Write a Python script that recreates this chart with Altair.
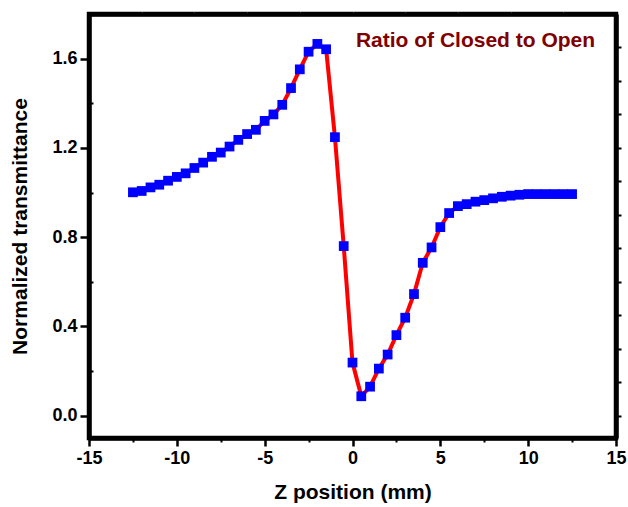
import altair as alt
import pandas as pd

# ---- data ----
z_mm = [-12.5, -12.0, -11.5, -11.0, -10.5, -10.0, -9.5, -9.0, -8.5, -8.0,
        -7.5, -7.0, -6.5, -6.0, -5.5, -5.0, -4.5, -4.0, -3.5, -3.0,
        -2.5, -2.0, -1.5, -1.0, -0.5, 0.0, 0.5, 1.0, 1.5, 2.0,
        2.5, 3.0, 3.5, 4.0, 4.5, 5.0, 5.5, 6.0, 6.5, 7.0,
        7.5, 8.0, 8.5, 9.0, 9.5, 10.0, 10.5, 11.0, 11.5, 12.0, 12.5]
transmittance = [1.001, 1.007, 1.023, 1.035, 1.053, 1.070, 1.086, 1.110, 1.134, 1.160,
                 1.179, 1.206, 1.236, 1.262, 1.281, 1.321, 1.350, 1.393, 1.468, 1.552,
                 1.631, 1.666, 1.642, 1.248, 0.760, 0.238, 0.087, 0.130, 0.211, 0.274,
                 0.361, 0.439, 0.545, 0.685, 0.754, 0.845, 0.908, 0.939, 0.948, 0.959,
                 0.966, 0.974, 0.981, 0.986, 0.990, 0.993, 0.993, 0.993, 0.993, 0.993, 0.993]

note_text = ["Ratio of Closed to Open"]
note_x = [7.0]
note_y = [1.68]

x_major = [-15, -10, -5, 0, 5, 10, 15]
x_minor = [-12.5, -7.5, -2.5, 2.5, 7.5, 12.5]
x_top = [-12, -9, -6, -3, 0, 3, 6, 9, 12]
y_major = [0.0, 0.4, 0.8, 1.2, 1.6]
y_minor = [0.2, 0.6, 1.0, 1.4]
y_right = [0.0, 0.15, 0.3, 0.45, 0.6, 0.75, 0.9, 1.05, 1.2, 1.35, 1.5, 1.65]

x_domain = [-15, 15]
y_domain = [-0.1, 1.8]

W, H = 527, 424
FONT = "Liberation Sans"
FRAME = 4.5

df = pd.DataFrame({"z": z_mm, "t": transmittance})
note_df = pd.DataFrame({"label": note_text, "x": note_x, "y": note_y})

xs = alt.Scale(domain=x_domain, nice=False, zero=False)
ys = alt.Scale(domain=y_domain, nice=False, zero=False)

common = dict(grid=False, tickColor="black", domainColor="black", labelColor="black",
              titleColor="black", labelFont=FONT, titleFont=FONT,
              labelFontWeight="bold", titleFontWeight="bold")

x_axis = alt.Axis(values=x_major, title="Z position (mm)", labelExpr="'' + datum.value",
                  tickSize=8, tickWidth=2.5, domainWidth=FRAME, labelFontSize=18,
                  labelPadding=3, titleFontSize=21, titlePadding=14, labelFlush=False,
                  **common)
y_axis = alt.Axis(values=y_major, title="Normalized transmittance", format=".1f",
                  tickSize=9, tickWidth=2.5, domainWidth=FRAME, labelFontSize=18,
                  labelPadding=3, titleFontSize=21, titlePadding=21, **common)

line = alt.Chart(df).mark_line(color="#ff0000", strokeWidth=4).encode(
    x=alt.X("z:Q", scale=xs, axis=x_axis),
    y=alt.Y("t:Q", scale=ys, axis=y_axis),
)

points = alt.Chart(df).mark_square(size=95, color="#0000ff", opacity=1).encode(
    x=alt.X("z:Q", scale=xs, axis=None),
    y=alt.Y("t:Q", scale=ys, axis=None),
)

note = alt.Chart(note_df).mark_text(
    font=FONT, fontSize=21, fontWeight="bold", color="#800000",
    align="center", baseline="middle"
).encode(
    x=alt.X("x:Q", scale=xs, axis=None),
    y=alt.Y("y:Q", scale=ys, axis=None),
    text="label:N",
)

minor = alt.Chart(df).mark_point(opacity=0).encode(
    x=alt.X("z:Q", scale=xs, axis=alt.Axis(orient="bottom", values=x_minor, labels=False,
                                            domain=False, tickSize=4, tickWidth=2,
                                            tickColor="black", title="", grid=False)),
    y=alt.Y("t:Q", scale=ys, axis=alt.Axis(orient="right", offset=-W, values=y_minor,
                                            labels=False, domain=False, tickSize=4,
                                            tickWidth=2, tickColor="black", title="",
                                            grid=False)),
)

edges = alt.Chart(df).mark_point(opacity=0).encode(
    x=alt.X("z:Q", scale=xs, axis=alt.Axis(orient="top", values=x_top, labels=False,
                                            domain=True, domainColor="black",
                                            domainWidth=FRAME, tickSize=3, tickWidth=1,
                                            tickColor="#bbbbbb", title="", grid=False)),
    y=alt.Y("t:Q", scale=ys, axis=alt.Axis(orient="right", values=y_right, labels=False,
                                            domain=True, domainColor="black",
                                            domainWidth=FRAME, tickSize=5, tickWidth=2,
                                            tickColor="black", title="", grid=False)),
)

chart = alt.layer(line, points, note, minor, edges).resolve_axis(
    x="independent", y="independent"
).properties(
    width=W, height=H,
    background="white",
    autosize=alt.AutoSizeParams(type="none"),
    padding={"left": 89, "top": 14, "right": 12, "bottom": 69},
).configure_view(
    stroke="black", strokeWidth=FRAME
)

chart.save("out.html", embed_options={"renderer": "svg", "actions": False})
